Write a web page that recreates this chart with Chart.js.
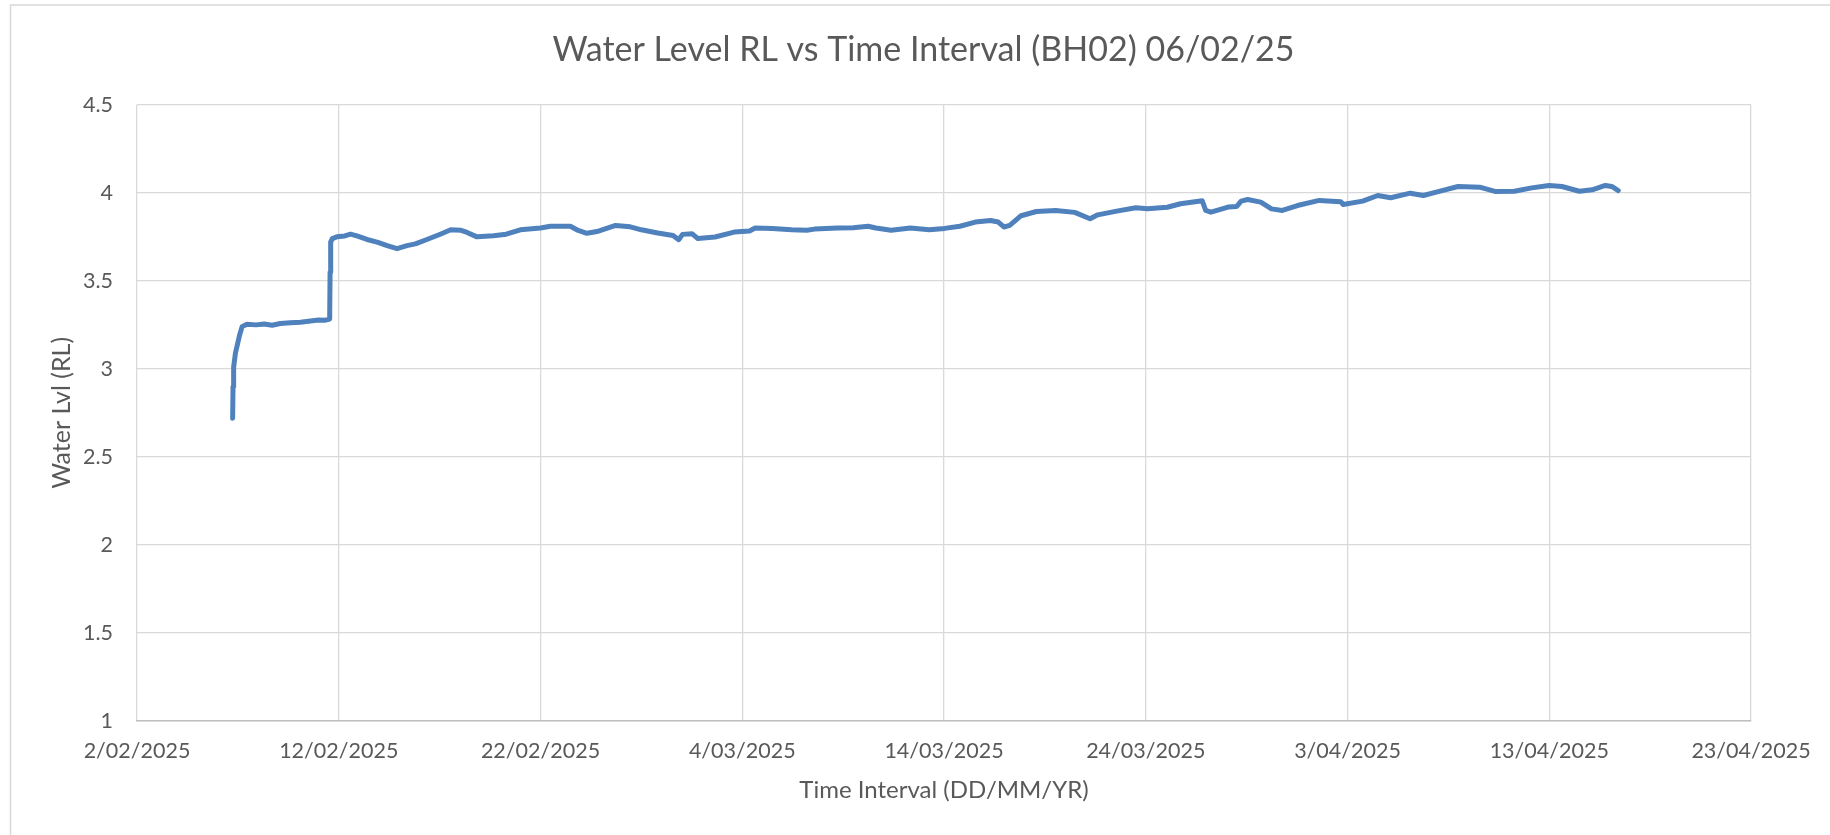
<!DOCTYPE html>
<html>
<head>
<meta charset="utf-8">
<script src="https://cdn.jsdelivr.net/npm/chart.js@4.4.1/dist/chart.umd.min.js"></script>
<style>
  html, body { margin: 0; padding: 0; background: #ffffff; }
  #wrap { width: 1830px; height: 835px; position: relative; }
  canvas { display: block; }
</style>
</head>
<body>
<div id="wrap"><canvas id="c" width="1830" height="835"></canvas></div>
<script>
// ---- DATA ----
const chartTitle = 'Water Level RL vs Time Interval (BH02) 06/02/25';
const xAxisTitle = 'Time Interval (DD/MM/YR)';
const yAxisTitle = 'Water Lvl (RL)';

// elapsed time in days since 2/02/2025 00:00
const daysSinceStart = [
  4.74, 4.76, 4.79, 4.88, 4.96, 5.08, 5.21, 5.45, 5.9, 6.3,
  6.7, 7.1, 7.6, 8.1, 8.6, 9.0, 9.3, 9.55, 9.57, 9.6,
  9.68, 9.9, 10.3, 10.58, 10.9, 11.4, 11.9, 12.4, 12.89, 13.38,
  13.8, 14.37, 15.03, 15.55, 16.03, 16.36, 16.85, 17.67, 18.3, 19.0,
  20.0, 20.49, 21.48, 21.8, 22.3, 22.8, 23.72, 24.45, 25.0, 25.81,
  26.57, 26.85, 27.04, 27.51, 27.8, 28.65, 29.6, 30.36, 30.64, 31.5,
  32.44, 33.2, 33.58, 34.72, 35.5, 36.24, 36.62, 37.38, 38.33, 39.27,
  40.03, 40.79, 41.55, 42.31, 42.69, 42.97, 43.26, 43.82, 44.58, 45.53,
  46.48, 47.24, 47.62, 48.56, 49.51, 50.08, 51.07, 51.72, 52.8, 52.97,
  53.23, 54.08, 54.51, 54.73, 55.05, 55.7, 56.23, 56.77, 57.52, 58.6,
  59.67, 59.78, 60.75, 61.5, 62.14, 63.11, 63.76, 64.4, 65.48, 66.55,
  67.31, 68.27, 69.13, 69.99, 70.63, 71.49, 72.13, 72.78, 73.1, 73.42
];
const waterLevelRL = [
  2.72, 2.90, 3.01, 3.09, 3.13, 3.19, 3.24, 3.254, 3.25, 3.255,
  3.248, 3.258, 3.262, 3.265, 3.272, 3.278, 3.276, 3.283, 3.55, 3.72,
  3.74, 3.75, 3.755, 3.765, 3.755, 3.735, 3.72, 3.70, 3.683, 3.70,
  3.71, 3.735, 3.765, 3.79, 3.788, 3.775, 3.75, 3.756, 3.765, 3.79,
  3.80, 3.81, 3.81, 3.79, 3.77, 3.78, 3.815, 3.807, 3.79, 3.772,
  3.758, 3.734, 3.764, 3.768, 3.74, 3.749, 3.777, 3.783, 3.80, 3.798,
  3.79, 3.787, 3.794, 3.80, 3.802, 3.81, 3.80, 3.787, 3.80, 3.79,
  3.798, 3.81, 3.834, 3.843, 3.834, 3.806, 3.815, 3.87, 3.894, 3.90,
  3.889, 3.853, 3.875, 3.896, 3.915, 3.909, 3.918, 3.938, 3.955, 3.90,
  3.89, 3.919, 3.923, 3.953, 3.962, 3.947, 3.909, 3.90, 3.928, 3.957,
  3.949, 3.934, 3.953, 3.985, 3.972, 3.998, 3.985, 4.004, 4.036, 4.032,
  4.008, 4.009, 4.028, 4.042, 4.036, 4.009, 4.017, 4.042, 4.036, 4.013
];

// x ticks every 10 days from 2/02/2025
const xTickLabels = ['2/02/2025', '12/02/2025', '22/02/2025', '4/03/2025', '14/03/2025',
                     '24/03/2025', '3/04/2025', '13/04/2025', '23/04/2025'];
const yTickLabels = ['1', '1.5', '2', '2.5', '3', '3.5', '4', '4.5'];

// ---- CHART ----
const FONT = 'Lato, "Open Sans", sans-serif';
const TEXT = '#595959';

const points = daysSinceStart.map((d, i) => ({ x: d, y: waterLevelRL[i] }));

const borderPlugin = {
  id: 'outerBorder',
  beforeDraw(chart) {
    const ctx = chart.ctx;
    ctx.save();
    ctx.fillStyle = '#ffffff';
    ctx.fillRect(0, 0, chart.width, chart.height);
    ctx.strokeStyle = '#d9d9d9';
    ctx.lineWidth = 1.5;
    ctx.beginPath();
    ctx.moveTo(10.5, chart.height);
    ctx.lineTo(10.5, 5);
    ctx.lineTo(chart.width, 5);
    ctx.stroke();
    ctx.restore();
  }
};

new Chart(document.getElementById('c'), {
  type: 'line',
  data: {
    datasets: [{
      data: points,
      borderColor: '#4F81BD',
      backgroundColor: '#4F81BD',
      borderWidth: 5,
      borderJoinStyle: 'round',
      borderCapStyle: 'round',
      pointRadius: 0,
      tension: 0,
      fill: false
    }]
  },
  options: {
    responsive: false,
    animation: false,
    events: [],
    layout: { padding: { left: 78, right: 61, top: 0, bottom: 0 } },
    plugins: {
      legend: { display: false },
      tooltip: { enabled: false },
      title: {
        display: true,
        text: chartTitle,
        color: TEXT,
        font: { family: FONT, size: 34, weight: 'normal', lineHeight: 1.2 },
        padding: { top: 30, bottom: 34 }
      }
    },
    scales: {
      x: {
        type: 'linear',
        min: 0,
        max: 80,
        afterFit(scale) { scale.height = 114; },
        ticks: {
          stepSize: 10,
          autoSkip: false,
          maxRotation: 0,
          padding: 17,
          color: TEXT,
          font: { family: FONT, size: 21.5 },
          callback: (v) => xTickLabels[Math.round(v / 10)]
        },
        grid: { color: '#d9d9d9', lineWidth: 1.3, drawTicks: false },
        border: { display: true, color: '#bfbfbf', width: 1.5 },
        title: {
          display: true,
          text: xAxisTitle,
          color: TEXT,
          font: { family: FONT, size: 24 },
          padding: { top: 0, bottom: 30 }
        }
      },
      y: {
        type: 'linear',
        min: 1,
        max: 4.5,
        afterFit(scale) { scale.width = 59; },
        ticks: {
          stepSize: 0.5,
          padding: 24,
          color: TEXT,
          font: { family: FONT, size: 21.5 },
          callback: (v) => yTickLabels[Math.round((v - 1) / 0.5)]
        },
        grid: { color: '#d9d9d9', lineWidth: 1.3, drawTicks: false },
        border: { display: false },
        title: {
          display: true,
          text: yAxisTitle,
          color: TEXT,
          font: { family: FONT, size: 25 },
          padding: { top: -31, bottom: 0 }
        }
      },
      // empty spacer on the right so the chart title sits where it does in the reference
      yRight: {
        type: 'linear',
        position: 'right',
        display: true,
        afterFit(scale) { scale.width = 18; },
        ticks: { display: false },
        grid: { display: false, drawTicks: false },
        border: { display: false },
        title: { display: false }
      }
    }
  },
  plugins: [borderPlugin]
});
</script>
</body>
</html>
